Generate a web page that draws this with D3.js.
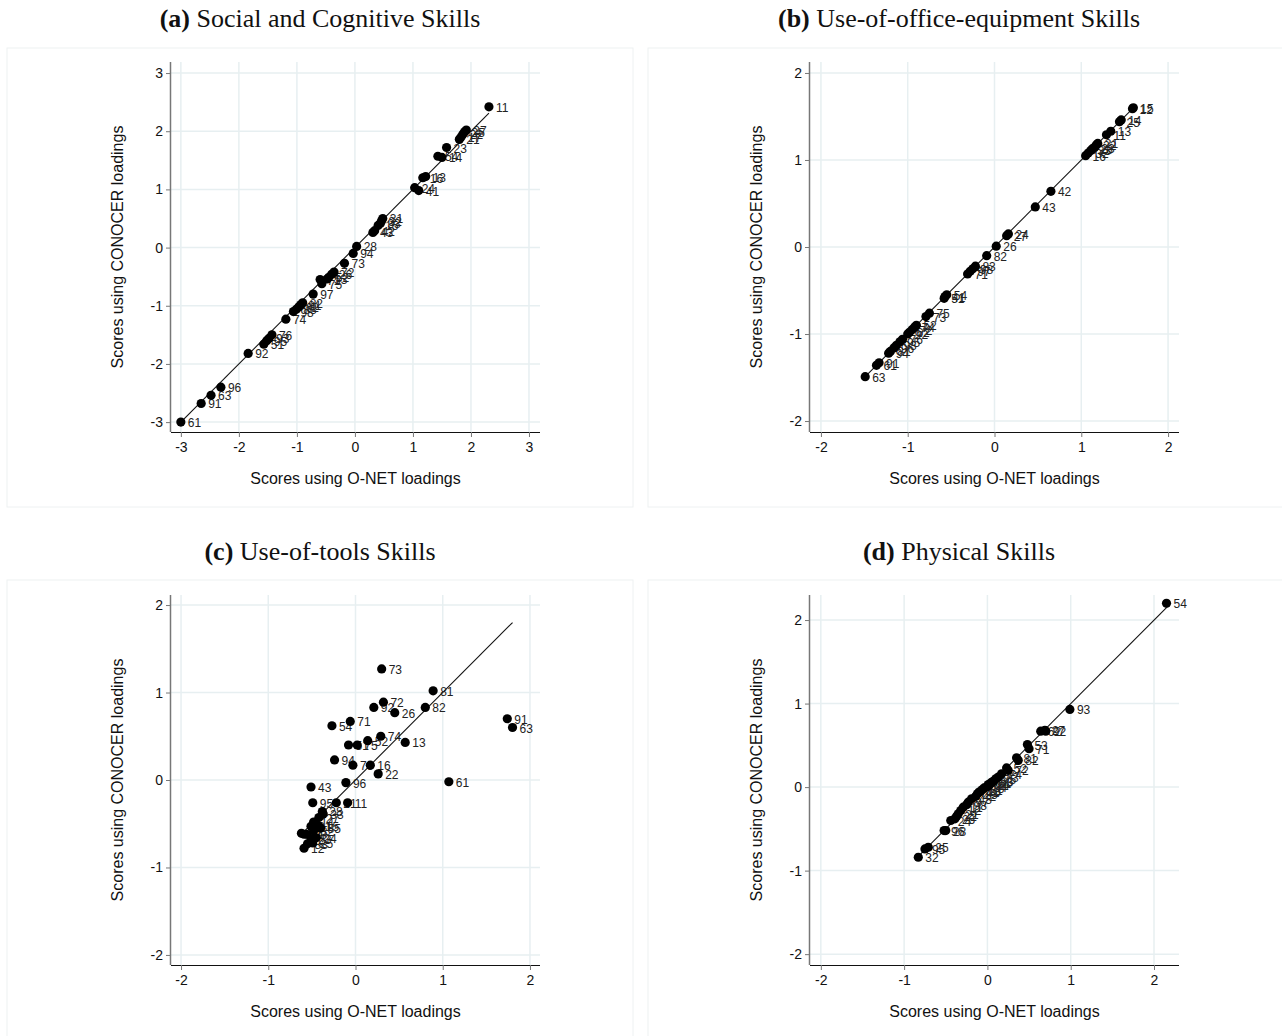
<!DOCTYPE html>
<html>
<head>
<meta charset="utf-8">
<script src="https://cdn.jsdelivr.net/npm/d3@7"></script>
<style>
  body { margin: 0; background: #fff; }
  svg text { font-family: "Liberation Sans", Arial, sans-serif; }
</style>
</head>
<body>
<div id="chart"></div>
<script>
// (a) social and cognitive
const socialCodes   = [11, 27, 25, 22, 17, 21, 23, 54, 14, 16, 13, 24, 41, 31, 32, 33, 15, 42, 43, 28, 94, 73, 72, 26, 52, 53, 75, 71, 97, 82, 81, 62, 83, 98, 74, 76, 93, 95, 51, 92, 96, 63, 91, 61];
const socialOnet    = [2.31, 1.92, 1.89, 1.86, 1.83, 1.80, 1.58, 1.43, 1.50, 1.17, 1.22, 1.03, 1.10, 0.48, 0.46, 0.44, 0.40, 0.34, 0.31, 0.03, -0.03, -0.18, -0.36, -0.40, -0.45, -0.48, -0.57, -0.60, -0.72, -0.90, -0.93, -0.97, -1.01, -1.06, -1.19, -1.43, -1.48, -1.52, -1.57, -1.84, -2.31, -2.48, -2.65, -3.00];
const socialConocer = [2.42, 2.02, 1.99, 1.95, 1.90, 1.86, 1.72, 1.57, 1.55, 1.20, 1.22, 1.03, 0.98, 0.50, 0.46, 0.42, 0.38, 0.29, 0.26, 0.02, -0.10, -0.27, -0.42, -0.46, -0.51, -0.54, -0.62, -0.55, -0.80, -0.95, -0.98, -1.02, -1.06, -1.10, -1.23, -1.50, -1.56, -1.60, -1.66, -1.82, -2.40, -2.54, -2.68, -3.00];

// (b) use of office equipment
const officeCodes   = [15, 12, 14, 25, 13, 11, 21, 22, 23, 28, 33, 32, 16, 42, 43, 24, 27, 26, 82, 83, 98, 97, 71, 54, 51, 41, 75, 73, 52, 74, 72, 62, 92, 76, 95, 93, 96, 81, 94, 91, 61, 63];
const officeOnet    = [1.60, 1.59, 1.46, 1.44, 1.34, 1.29, 1.19, 1.17, 1.15, 1.13, 1.11, 1.08, 1.05, 0.65, 0.47, 0.16, 0.14, 0.02, -0.09, -0.22, -0.25, -0.28, -0.31, -0.55, -0.58, -0.57, -0.75, -0.79, -0.90, -0.92, -0.95, -0.98, -1.00, -1.06, -1.09, -1.13, -1.16, -1.20, -1.22, -1.33, -1.36, -1.49];
const officeConocer = [1.60, 1.59, 1.46, 1.44, 1.33, 1.29, 1.19, 1.17, 1.14, 1.13, 1.11, 1.08, 1.05, 0.64, 0.46, 0.15, 0.13, 0.01, -0.10, -0.22, -0.25, -0.28, -0.31, -0.55, -0.59, -0.57, -0.76, -0.80, -0.90, -0.92, -0.95, -0.98, -1.00, -1.06, -1.09, -1.13, -1.16, -1.20, -1.22, -1.33, -1.36, -1.49];

// (c) use of tools
const toolsCodes   = [73, 81, 72, 92, 82, 26, 91, 71, 63, 54, 74, 52, 13, 51, 75, 94, 76, 16, 22, 61, 96, 43, 95, 21, 11, 28, 33, 14, 27, 31, 15, 85, 32, 41, 42, 24, 25, 23, 83, 93, 12];
const toolsOnet    = [0.30, 0.89, 0.32, 0.21, 0.80, 0.45, 1.74, -0.06, 1.80, -0.27, 0.29, 0.14, 0.57, -0.08, 0.02, -0.24, -0.03, 0.17, 0.26, 1.07, -0.11, -0.51, -0.49, -0.22, -0.09, -0.38, -0.37, -0.48, -0.42, -0.51, -0.42, -0.40, -0.48, -0.59, -0.62, -0.45, -0.49, -0.51, -0.55, -0.56, -0.59];
const toolsConocer = [1.27, 1.02, 0.89, 0.83, 0.83, 0.77, 0.70, 0.67, 0.60, 0.62, 0.50, 0.45, 0.43, 0.40, 0.40, 0.23, 0.17, 0.17, 0.07, -0.02, -0.03, -0.08, -0.26, -0.26, -0.26, -0.36, -0.39, -0.48, -0.43, -0.53, -0.53, -0.55, -0.58, -0.62, -0.61, -0.66, -0.72, -0.67, -0.73, -0.62, -0.78];

// (d) physical
const physCodes   = [54, 93, 27, 62, 92, 53, 71, 81, 82, 52, 72, 74, 73, 75, 63, 33, 61, 14, 91, 94, 76, 51, 13, 41, 23, 42, 43, 97, 98, 11, 12, 21, 22, 26, 24, 28, 96, 25, 95, 32];
const physOnet    = [2.15, 0.99, 0.69, 0.64, 0.70, 0.48, 0.50, 0.35, 0.37, 0.23, 0.25, 0.17, 0.13, 0.10, 0.07, 0.06, 0.04, 0.02, 0.01, -0.01, -0.04, -0.06, -0.08, -0.10, -0.12, -0.14, -0.19, -0.23, -0.25, -0.29, -0.32, -0.35, -0.37, -0.39, -0.44, -0.50, -0.52, -0.71, -0.75, -0.83];
const physConocer = [2.20, 0.93, 0.68, 0.67, 0.67, 0.51, 0.46, 0.35, 0.32, 0.23, 0.20, 0.16, 0.12, 0.10, 0.07, 0.06, 0.05, 0.02, 0.03, 0.00, -0.01, -0.03, -0.05, -0.06, -0.08, -0.11, -0.14, -0.18, -0.21, -0.24, -0.28, -0.32, -0.35, -0.38, -0.40, -0.52, -0.52, -0.72, -0.74, -0.84];

const ticksWide   = [-3, -2, -1, 0, 1, 2, 3];
const ticksNarrow = [-2, -1, 0, 1, 2];

const panelTitles = ["Social and Cognitive Skills", "Use-of-office-equipment Skills", "Use-of-tools Skills", "Physical Skills"];
const panelLetters = ["a", "b", "c", "d"];
const xTitle = "Scores using O-NET loadings";
const yTitle = "Scores using CONOCER loadings";

const width = 1282, height = 1036;
const gridColor = "#e7eff1";

const svg = d3.select("#chart").append("svg")
  .attr("width", width)
  .attr("height", height)
  .attr("viewBox", [0, 0, width, height]);

const panels = [
  {codes: socialCodes, x: socialOnet, y: socialConocer, ticks: ticksWide, domain: [-3.17, 3.19], dx: 0, dy: 0},
  {codes: officeCodes, x: officeOnet, y: officeConocer, ticks: ticksNarrow, domain: [-2.126, 2.126], dx: 639, dy: 0},
  {codes: toolsCodes, x: toolsOnet, y: toolsConocer, ticks: ticksNarrow, domain: [-2.115, 2.115], dx: 0, dy: 533},
  {codes: physCodes, x: physOnet, y: physConocer, ticks: ticksNarrow, domain: [-2.13, 2.30], dx: 639, dy: 533}
];

panels.forEach((p, i) => {
  const g = svg.append("g").attr("transform", `translate(${p.dx},${p.dy})`);

  // faint panel frame
  g.append("rect")
    .attr("x", i % 2 ? 9 : 7).attr("y", i < 2 ? 48 : 47)
    .attr("width", i % 2 ? 640 : 626).attr("height", i < 2 ? 459 : 470)
    .attr("fill", "none").attr("stroke", "#eef1f2");

  // title
  const t = g.append("text")
    .attr("x", 320).attr("y", 27)
    .attr("text-anchor", "middle")
    .style("font-family", "'Liberation Serif', 'Times New Roman', serif")
    .attr("font-size", 26)
    .attr("fill", "#111");
  t.append("tspan").attr("font-weight", "bold").text(`(${panelLetters[i]})`);
  t.append("tspan").text(" " + panelTitles[i]);

  const left = 171, right = 540, top = 62, bottom = 432;
  const x = d3.scaleLinear().domain(p.domain).range([left, right]);
  const y = d3.scaleLinear().domain(p.domain).range([bottom, top]);

  // grid
  g.append("g").selectAll("line.v").data(p.ticks).join("line")
    .attr("x1", d => x(d)).attr("x2", d => x(d))
    .attr("y1", top).attr("y2", bottom)
    .attr("stroke", gridColor).attr("stroke-width", 1.5);
  g.append("g").selectAll("line.h").data(p.ticks).join("line")
    .attr("y1", d => y(d)).attr("y2", d => y(d))
    .attr("x1", left).attr("x2", right)
    .attr("stroke", gridColor).attr("stroke-width", 1.5);

  // axes
  const xAxis = g.append("g")
    .attr("transform", `translate(0,${bottom})`)
    .call(d3.axisBottom(x).tickValues(p.ticks).tickSize(5).tickPadding(4).tickFormat(d => String(d)));
  xAxis.select(".domain").attr("d", `M${left},0.5H${right}`).attr("stroke", "#111");
  xAxis.selectAll(".tick line").attr("stroke", "#777");
  xAxis.selectAll(".tick text").attr("font-size", 14).attr("fill", "#111").attr("dy", "0.75em");

  const yAxis = g.append("g")
    .attr("transform", `translate(${left},0)`)
    .call(d3.axisLeft(y).tickValues(p.ticks).tickSize(5).tickPadding(3).tickFormat(d => String(d)));
  yAxis.select(".domain").attr("d", `M-0.5,${top}V${bottom}`).attr("stroke", "#777").attr("stroke-width", 1.5);
  yAxis.selectAll(".tick line").attr("stroke", "#777");
  yAxis.selectAll(".tick text").attr("font-size", 14).attr("fill", "#111");

  // axis titles
  g.append("text")
    .attr("x", (left + right) / 2).attr("y", 484)
    .attr("text-anchor", "middle")
    .attr("font-size", 16).attr("fill", "#111")
    .text(xTitle);
  g.append("text")
    .attr("transform", `translate(123,${(top + bottom) / 2}) rotate(-90)`)
    .attr("text-anchor", "middle")
    .attr("font-size", 16).attr("fill", "#111")
    .text(yTitle);

  // 45 degree line
  const lo = d3.min(p.x), hi = d3.max(p.x);
  g.append("line")
    .attr("x1", x(lo)).attr("y1", y(lo))
    .attr("x2", x(hi)).attr("y2", y(hi))
    .attr("stroke", "#111").attr("stroke-width", 1.1);

  const pts = p.codes.map((c, k) => ({code: c, ox: p.x[k], oy: p.y[k]}));

  g.append("g").selectAll("text").data(pts).join("text")
    .attr("x", d => x(d.ox) + 7)
    .attr("y", d => y(d.oy) + 5)
    .attr("font-size", 12)
    .attr("fill", "#222")
    .text(d => d.code);

  g.append("g").selectAll("circle").data(pts).join("circle")
    .attr("cx", d => x(d.ox))
    .attr("cy", d => y(d.oy))
    .attr("r", 4.6)
    .attr("fill", "#000");
});
</script>
</body>
</html>
